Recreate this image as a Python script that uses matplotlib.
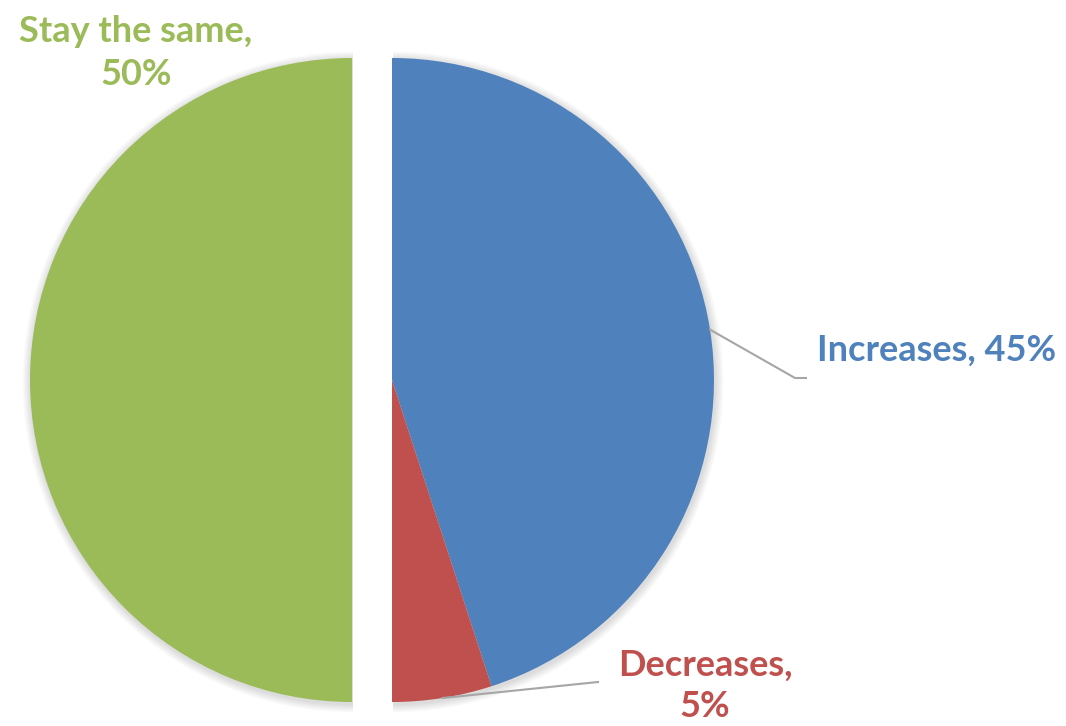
import numpy as np
import matplotlib.pyplot as plt

# Share of respondents by expected change
labels = ["Increases", "Decreases", "Stay the same"]
shares = [45, 5, 50]
colors = ["#4F81BD", "#C0504D", "#9BBB59"]

W, H = 1066, 726
cx, cy, R = 392, H - 380, 322
explode = [0, 0, 40]  # pie() takes explode in data units (pixels here)

fig = plt.figure(figsize=(W / 100, H / 100), dpi=100)
ax = fig.add_axes([0, 0, 1, 1])

# soft shadow under the slices
for k in range(1, 8):
    ax.pie(shares, radius=R + k * 1.2, center=(cx + 1, cy - 2), startangle=90,
           counterclock=False, explode=explode,
           colors=["#000000"] * 3, wedgeprops=dict(alpha=0.018, linewidth=0),
           frame=True)

wedges, _ = ax.pie(shares, radius=R, center=(cx, cy), startangle=90,
                   counterclock=False, explode=explode, colors=colors,
                   wedgeprops=dict(linewidth=0), frame=True)
ax.set_xlim(0, W)
ax.set_ylim(0, H)
ax.set_aspect("equal")
ax.axis("off")

font = dict(family=["Lato", "DejaVu Sans"], fontweight="bold", fontsize=26)

# leader lines from the middle of each small-side wedge
def mid_point(w):
    a = np.deg2rad((w.theta1 + w.theta2) / 2)
    return w.center[0] + R * np.cos(a), w.center[1] + R * np.sin(a)

x0, y0 = mid_point(wedges[0])
ax.plot([x0, 795, 806], [y0, H - 378, H - 378], color="#A6A6A6", lw=1.5)
x1, y1 = mid_point(wedges[1])
ax.plot([x1, 598], [y1, H - 682], color="#A6A6A6", lw=1.5)

ax.text(817, H - 350, f"{labels[0]}, {shares[0]}%", color=colors[0],
        ha="left", va="center", **font)
ax.text(705, H - 686, f"{labels[1]},\n{shares[1]}%", color=colors[1],
        ha="center", va="center", linespacing=1.3, **font)
ax.text(136, H - 53, f"{labels[2]},\n{shares[2]}%", color=colors[2],
        ha="center", va="center", linespacing=1.38, **font)

fig.savefig("out.png", dpi=100, facecolor="white")
